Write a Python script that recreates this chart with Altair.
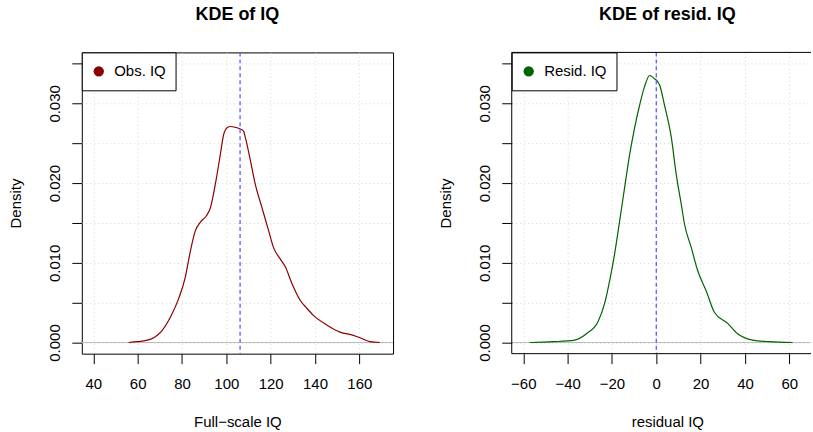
import altair as alt
import pandas as pd

# ---- data ----
iq_x = [56.0, 60.0, 62.8, 67.3, 71.0, 74.8, 78.5, 81.5, 83.8, 86.0, 88.3, 91.0, 92.8,
        95.0, 97.3, 98.8, 100.6, 101.8, 104.0, 106.3, 107.8, 108.6, 110.8, 113.1,
        116.1, 119.1, 121.3, 124.3, 126.6, 129.6, 133.3, 136.3, 139.3, 145.3, 151.3,
        157.3, 161.1, 164.8, 169.3]
iq_d = [0.0000, 0.0001, 0.0002, 0.0006, 0.0015, 0.0032, 0.0055, 0.0082, 0.0115, 0.0140,
        0.0151, 0.0159, 0.0169, 0.0198, 0.0236, 0.0261, 0.0270, 0.0271, 0.0270, 0.0268,
        0.0265, 0.0257, 0.0229, 0.0198, 0.0169, 0.0140, 0.0119, 0.0105, 0.0095, 0.0074,
        0.0053, 0.0043, 0.0034, 0.0022, 0.0013, 0.0009, 0.0005, 0.0001, 0.0000]

res_x = [-57.0, -46.5, -36.8, -31.5, -26.3, -23.3, -21.0, -18.8, -16.5, -14.3, -12.0,
         -9.8, -7.5, -5.3, -3.0, -0.8, 0.7, 1.5, 3.7, 6.8, 9.0, 11.3, 12.7, 15.8, 18.7,
         22.5, 26.2, 32.2, 36.7, 43.5, 51.0, 61.5]
res_d = [0.0000, 0.0001, 0.0003, 0.0011, 0.0026, 0.0049, 0.0078, 0.0111, 0.0153, 0.0194,
         0.0236, 0.0269, 0.0298, 0.0321, 0.0335, 0.0331, 0.0327, 0.0323, 0.0298, 0.0257,
         0.0211, 0.0173, 0.0149, 0.0119, 0.0090, 0.0065, 0.0038, 0.0024, 0.0011, 0.0003,
         0.0001, 0.0000]

iq_mean = 106.2
res_mean = 0.0

iq_ticks = [40, 60, 80, 100, 120, 140, 160]
res_ticks = [-60, -40, -20, 0, 20, 40, 60]
y_ticks = [0.0, 0.005, 0.01, 0.015, 0.02, 0.025, 0.03, 0.035]

FONT = "Liberation Sans"
H = 302
W_L = 312
W_R = 300
PX_PER_UNIT = W_L / 140.4

one = pd.DataFrame({"k": [0]})


def yaxis():
    return alt.Axis(
        values=y_ticks,
        labelExpr="round(datum.value*1000) % 10 === 0 ? format(datum.value, '.3f') : ''",
        labelAngle=270, labelAlign="center", labelBaseline="alphabetic",
        labelPadding=12.7, labelOverlap=False, labelFlush=False,
        labelFont=FONT, labelFontSize=15, labelColor="black",
        tickSize=10, tickColor="black", tickWidth=1, domain=False,
        grid=True, gridColor="#D3D3D3", gridDash=[1, 3], gridWidth=1,
        title="Density", titleFont=FONT, titleFontSize=15, titleFontWeight="normal",
        titleColor="black", titleAngle=270, titleX=-61, titleY=H / 2,
        titleAlign="center", titleBaseline="alphabetic",
    )


def xaxis(vals, title):
    return alt.Axis(
        values=vals, format="d",
        labelAngle=0, labelAlign="center", labelBaseline="alphabetic",
        labelPadding=25.3, labelOverlap=False, labelFlush=False,
        labelFont=FONT, labelFontSize=15, labelColor="black",
        tickSize=10, tickColor="black", tickWidth=1, domain=False,
        grid=True, gridColor="#D3D3D3", gridDash=[1, 3], gridWidth=1,
        title=title, titleFont=FONT, titleFontSize=15, titleFontWeight="normal",
        titleColor="black", titleX=156, titleY=72.7,
        titleAlign="center", titleBaseline="alphabetic",
    )


def panel(xs, ds, label, color, mean, xdom, xticks, xtitle, title, width, full_box):
    df = pd.DataFrame({"x": xs, "d": ds, "series": [label] * len(xs)})
    xscale = alt.Scale(domain=xdom, nice=False, zero=False)
    yscale = alt.Scale(domain=[-0.0014, 0.0364], nice=False, zero=False)

    curve = alt.Chart(df).mark_line(interpolate="monotone", strokeWidth=1.2).encode(
        x=alt.X("x:Q", scale=xscale, axis=xaxis(xticks, xtitle)),
        y=alt.Y("d:Q", scale=yscale, axis=yaxis()),
        color=alt.Color(
            "series:N",
            scale=alt.Scale(domain=[label], range=[color]),
            legend=alt.Legend(
                title=None, orient="none", legendX=0, legendY=0,
                symbolType="circle", symbolSize=107, symbolFillColor=color,
                symbolStrokeColor=color, symbolStrokeWidth=0,
                labelFont=FONT, labelFontSize=15, labelColor="black", labelOffset=8,
                padding=9.5, clipHeight=19, strokeColor="black", fillColor="white",
            ),
        ),
    )
    zero = alt.Chart(one).mark_rule(color="#BEBEBE", strokeWidth=1.2).encode(
        y=alt.datum(0, scale=yscale)
    )
    meanline = alt.Chart(pd.DataFrame({"m": [mean]})).mark_rule(
        color="#5B5BFF", strokeWidth=1.3, strokeDash=[4, 3]
    ).encode(x=alt.X("m:Q", scale=xscale))
    ttl = alt.Chart(one).mark_text(
        text=title, font=FONT, fontSize=18, fontWeight="bold", color="black",
        align="center", baseline="alphabetic",
    ).encode(x=alt.value(156), y=alt.value(-32))

    layers = [zero, curve, meanline, ttl]
    if full_box:
        anchor = alt.Chart(one).mark_rule(opacity=0, strokeWidth=0).encode(
            x=alt.value(-81), y=alt.value(-51), y2=alt.value(-50)
        )
        layers.append(anchor)
        ch = alt.layer(*layers).properties(width=width, height=H)
    else:
        top = alt.Chart(one).mark_rule(color="black", strokeWidth=1).encode(
            x=alt.value(0), x2=alt.value(width), y=alt.value(0))
        bot = alt.Chart(one).mark_rule(color="black", strokeWidth=1).encode(
            x=alt.value(0), x2=alt.value(width), y=alt.value(H))
        lft = alt.Chart(one).mark_rule(color="black", strokeWidth=1).encode(
            x=alt.value(0), y=alt.value(0), y2=alt.value(H))
        layers += [top, bot, lft]
        ch = alt.layer(*layers).properties(
            width=width, height=H, view=alt.ViewBackground(stroke="transparent")
        )
    return ch


left = panel(iq_x, iq_d, "Obs. IQ", "#8B0000", iq_mean, [34.8, 175.2], iq_ticks,
             "Full\u2212scale IQ", "KDE of IQ", W_L, True)
right = panel(res_x, res_d, "Resid. IQ", "#006400", res_mean,
              [-65.2, -65.2 + W_R / PX_PER_UNIT], res_ticks,
              "residual IQ", "KDE of resid. IQ", W_R, False)

chart = alt.hconcat(left, right, spacing=119, bounds="flush").resolve_scale(
    color="independent", x="independent"
).resolve_legend(color="independent").configure(
    padding=0, background="white"
).configure_view(stroke="black", strokeWidth=1)

chart.save("out.html", embed_options={"renderer": "svg", "actions": False})
